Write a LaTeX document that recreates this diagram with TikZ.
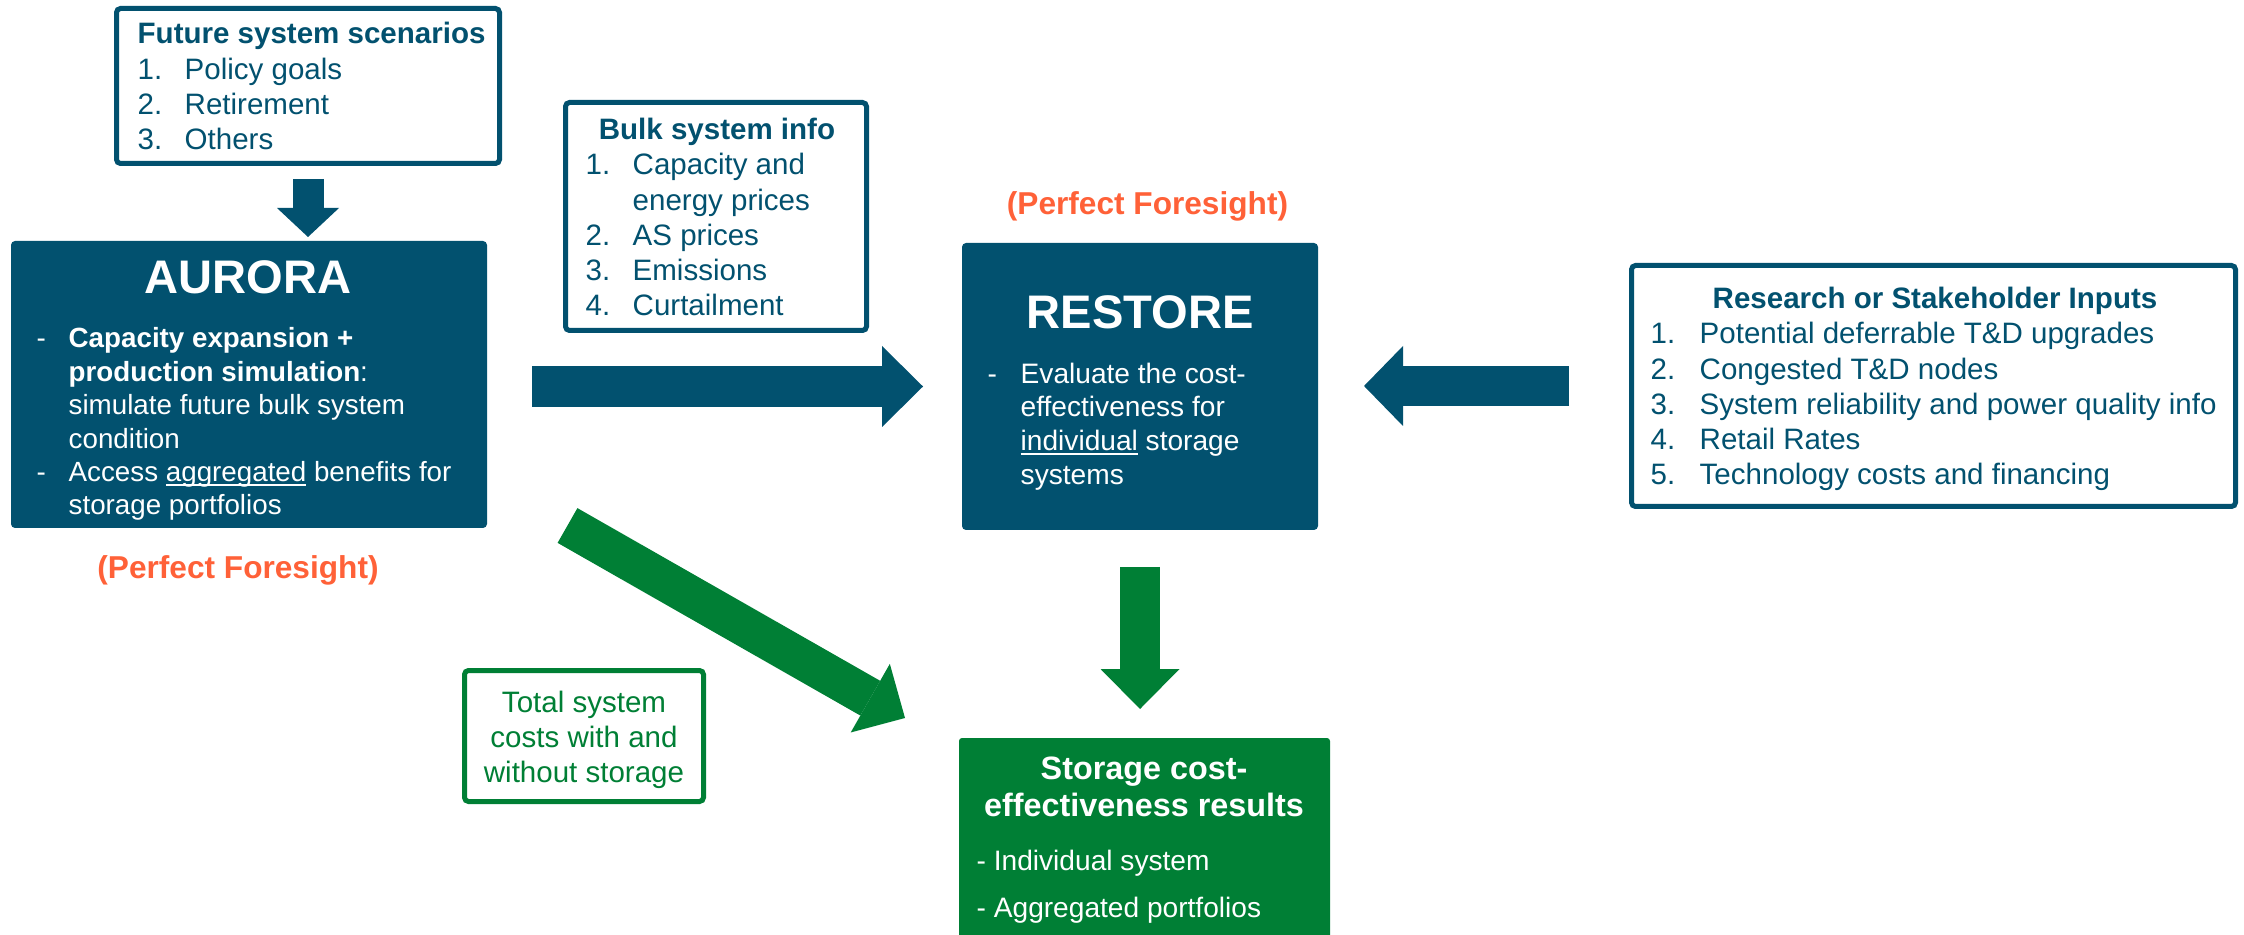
\documentclass[tikz,border=0pt]{standalone}
\usepackage{fontspec}
\setmainfont{Liberation Sans}
\usetikzlibrary{arrows.meta, positioning, calc}
\definecolor{brand}{HTML}{02516F}
\definecolor{leaf}{HTML}{007F35}
\definecolor{flame}{HTML}{FF6138}
\newcommand\undl[1]{\setbox0\hbox{#1}\rlap{\rule[-1.2pt]{\wd0}{0.45pt}}#1}

\begin{document}
\begin{tikzpicture}[
  x=0.1mm, y=-0.1mm,
  inbox/.style={draw=brand, line width=0.5mm, fill=white, rounded corners=0.4mm,
                inner sep=0pt, outer sep=0pt},
  model/.style={fill=brand, rounded corners=0.4mm, inner sep=0pt, outer sep=0pt},
  result/.style={fill=leaf, rounded corners=0.3mm, inner sep=0pt, outer sep=0pt},
  listtxt/.style={anchor=base west, inner sep=0pt, text=brand,
                  font=\fontsize{8.4}{10}\selectfont},
  headtxt/.style={anchor=base, inner sep=0pt, text=brand,
                  font=\fontsize{8.4}{10}\selectfont\bfseries},
  bigtxt/.style={anchor=base, inner sep=0pt, text=white,
                 font=\fontsize{13.4}{16}\selectfont\bfseries},
  foresight/.style={anchor=base, inner sep=0pt, text=flame,
                    font=\fontsize{9}{11}\selectfont\bfseries},
  bluearr/.style={draw=brand, line width=4.1mm,
                  -{Triangle[length=4.1mm, width=8.1mm, line width=0pt]}},
  greenarr/.style={draw=leaf, line width=4mm,
                   -{Triangle[length=4mm, width=7.9mm, line width=0pt]}}
]
  \useasboundingbox (0,0) rectangle (2244,935);

  % Boxes
  \node[inbox, minimum width=38.3mm, minimum height=15.5mm] (future) at (308,86) {};
  \node[model, minimum width=47.6mm, minimum height=28.7mm] (aurora) at (249,384.5) {};
  \node[inbox, minimum width=30.1mm, minimum height=22.8mm] (bulk) at (716,216.5) {};
  \node[model, minimum width=35.6mm, minimum height=28.7mm] (restore) at (1140,386.5) {};
  \node[inbox, minimum width=60.4mm, minimum height=24.1mm] (research) at (1933.5,386) {};
  \node[inbox, draw=leaf, minimum width=23.9mm, minimum height=13.1mm] (total) at (584,736) {};
  \node[result, minimum width=37.1mm, minimum height=20.2mm] (storage) at (1144.5,839) {};

  % Future system scenarios
  \node[listtxt] (futurelist) at (137,44) {\begin{tabular}[t]{@{}p{4.7mm}@{}l@{}}
    \multicolumn{2}{@{}l@{}}{\bfseries Future system scenarios}\\
    1. & Policy goals\\ 2. & Retirement\\ 3. & Others\end{tabular}};

  % AURORA
  \node[bigtxt] (auroratitle) at (248,294) {AURORA};
  \node[listtxt, text=white, font=\fontsize{7.9}{9.5}\selectfont] (auroralist) at (36,348)
    {\begin{tabular}[t]{@{}p{3.2mm}@{}l@{}}
    - & \bfseries Capacity expansion +\\
      & \textbf{production simulation}:\\
      & simulate future bulk system\\
      & condition\\
    - & Access \undl{aggregated} benefits for\\
      & storage portfolios\end{tabular}};
  \node[foresight] (foreleft) at (238,578) {(Perfect Foresight)};

  % Bulk system info
  \node[headtxt] (bulkhead) at (717,140) {Bulk system info};
  \node[listtxt] (bulklist) at (585,175) {\begin{tabular}[t]{@{}p{4.7mm}@{}l@{}}
    1. & Capacity and\\ & energy prices\\ 2. & AS prices\\
    3. & Emissions\\ 4. & Curtailment\end{tabular}};

  % RESTORE
  \node[foresight] (foreright) at (1147.5,215) {(Perfect Foresight)};
  \node[bigtxt] (restoretitle) at (1140,329) {RESTORE};
  \node[listtxt, text=white, font=\fontsize{8}{9.6}\selectfont] (restorelist) at (987,383)
    {\begin{tabular}[t]{@{}p{3.3mm}@{}l@{}}
    - & Evaluate the cost-\\ & effectiveness for\\
      & \undl{individual} storage\\ & systems\end{tabular}};

  % Research or stakeholder inputs
  \node[headtxt] (researchhead) at (1935,309) {Research or Stakeholder Inputs};
  \node[listtxt] (researchlist) at (1650,344) {\begin{tabular}[t]{@{}p{4.9mm}@{}l@{}}
    1. & Potential deferrable T\&D upgrades\\
    2. & Congested T\&D nodes\\
    3. & System reliability and power quality info\\
    4. & Retail Rates\\
    5. & Technology costs and financing\end{tabular}};

  % Outputs
  \node[anchor=base, inner sep=0pt, text=leaf, font=\fontsize{8.4}{10}\selectfont]
    (totaltxt) at (584,712) {\begin{tabular}[t]{@{}c@{}}Total system\\
    costs with and\\ without storage\end{tabular}};
  \node[anchor=base, inner sep=0pt, text=white, font=\fontsize{9.2}{10.8}\selectfont\bfseries]
    (storagehead) at (1144,779) {\begin{tabular}[t]{@{}c@{}}Storage cost-\\
    effectiveness results\end{tabular}};
  \node[listtxt, text=white, font=\fontsize{8}{13.4}\selectfont] (storagelist) at (976,870)
    {\begin{tabular}[t]{@{}l@{}}- Individual system\\ - Aggregated portfolios\end{tabular}};

  % Arrows
  \coordinate (diagtail) at (567.5,525.5);
  \coordinate (diagtip) at (905,718);
  \draw[bluearr, line width=3.1mm, -{Triangle[length=2.9mm, width=6.2mm, line width=0pt]},
        shorten <=1.55mm, shorten >=0.4mm] (future.south) -- (future.south |- aurora.north);
  \draw[bluearr, shorten <=4.5mm, shorten >=3.9mm] (restore.west -| aurora.east) -- (restore.west);
  \draw[bluearr, line width=4mm, -{Triangle[length=3.9mm, width=8mm, line width=0pt]},
        shorten <=6.25mm, shorten >=4.6mm] (research.west) -- (research.west -| restore.east);
  \draw[greenarr, shorten <=3.7mm, shorten >=2.9mm] (restore.south) -- (restore.south |- storage.north);
  \draw[greenarr, line width=4mm] (diagtail) -- (diagtip);
\end{tikzpicture}
\end{document}
